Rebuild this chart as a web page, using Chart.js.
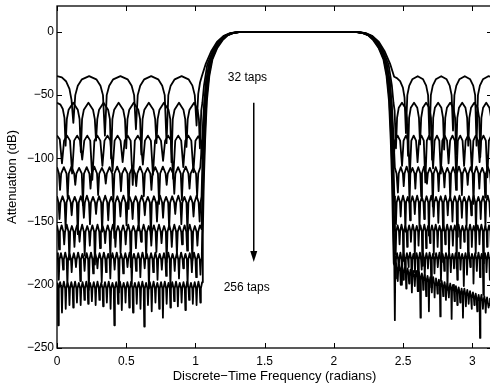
<!DOCTYPE html>
<html><head><meta charset="utf-8">
<script src="https://cdn.jsdelivr.net/npm/chart.js@4.4.1/dist/chart.umd.min.js"></script>
<style>html,body{margin:0;padding:0;background:#fff;overflow:hidden;width:490px;height:384px}canvas{display:block}</style>
</head><body>
<canvas id="c" width="494" height="384"></canvas>
<script>
// ---- tick labels ----
const xTicks = [0, 0.5, 1, 1.5, 2, 2.5, 3];
const yTicks = [0, -50, -100, -150, -200, -250];
const xTitle = 'Discrete\u2212Time Frequency (radians)';
const yTitle = 'Attenuation (dB)';
const topLabel = '32 taps';
const bottomLabel = '256 taps';
// annotation anchors in data units [radians, dB]
const topLabelAt = [1.375, -36];
const bottomLabelAt = [1.37, -202.5];
const arrowFrom = [1.421, -56];
const arrowTo = [1.421, -182];

// ---- series: [frequency (rad), attenuation (dB)] ----
const taps32 = [[0,-35],[.035,-36],[.065,-39],[.09,-45],[.105,-54],[.118,-72],
[.132,-50],[.15,-42.5],[.18,-37.5],[.232,-35],[.284,-37.5],[.314,-42.5],[.332,-50],[.346,-82],
[.359,-50],[.377,-42.5],[.406,-37.5],[.458,-35],[.51,-37.5],[.539,-42.5],[.557,-50],[.57,-77],
[.583,-50],[.601,-42.5],[.63,-37.5],[.68,-35],[.731,-37.5],[.76,-42.5],[.778,-50],[.791,-88],
[.804,-50],[.821,-42.5],[.85,-37.5],[.9,-35],[.95,-37.5],[.978,-42.5],[.995,-50],[1.008,-74],
[1.02,-49],[1.033,-40],[1.045,-35.5],[1.075,-25],[1.115,-15],[1.155,-8],[1.205,-3],[1.25,-1],[1.3,-.2],[1.36,0],
[2.12,0],[2.18,-.2],[2.23,-1],[2.275,-3],[2.325,-8],[2.365,-15],[2.405,-25],[2.435,-35.5],
[2.455,-36.5],[2.478,-39],[2.498,-44],[2.51,-52],[2.52,-80],
[2.53,-50],[2.544,-42.5],[2.566,-37.5],[2.605,-35],[2.644,-37.5],[2.666,-42.5],[2.68,-50],[2.69,-85],
[2.7,-50],[2.714,-42.5],[2.736,-37.5],[2.775,-35],[2.814,-37.5],[2.836,-42.5],[2.85,-50],[2.86,-78],
[2.87,-50],[2.884,-42.5],[2.906,-37.5],[2.945,-35],[2.984,-37.5],[3.006,-42.5],[3.02,-50],[3.03,-90],
[3.04,-50],[3.054,-42.5],[3.076,-37.5],[3.115,-35],[3.142,-35.8]];

const taps64 = [[0,-56],[.025,-57.5],[.042,-61],[.054,-68],[.062,-90],
[.071,-69],[.084,-61.5],[.117,-56],[.15,-61.5],[.163,-69],[.172,-95],
[.181,-69],[.194,-61.5],[.227,-56],[.26,-61.5],[.273,-69],[.282,-86],
[.291,-69],[.304,-61.5],[.336,-56],[.369,-61.5],[.382,-69],[.391,-100],
[.4,-69],[.413,-61.5],[.445,-56],[.478,-61.5],[.491,-69],[.5,-92],
[.509,-69],[.522,-61.5],[.554,-56],[.587,-61.5],[.6,-69],[.609,-97],
[.618,-69],[.631,-61.5],[.663,-56],[.696,-61.5],[.709,-69],[.718,-88],
[.727,-69],[.74,-61.5],[.772,-56],[.805,-61.5],[.818,-69],[.827,-103],
[.836,-69],[.849,-61.5],[.881,-56],[.913,-61.5],[.926,-69],[.935,-91],
[.944,-69],[.957,-61.5],[.99,-56],[1.015,-61.5],[1.025,-69],[1.032,-92],
[1.042,-62],[1.05,-56],[1.062,-42],[1.085,-26],[1.125,-15],[1.162,-8],[1.21,-3],[1.255,-1],[1.305,-.2],[1.36,0],
[2.12,0],[2.175,-.2],[2.225,-1],[2.27,-3],[2.318,-8],[2.355,-15],[2.395,-26],[2.418,-42],[2.43,-56],[2.438,-62],[2.448,-92],
[2.456,-68],[2.468,-60],[2.4915,-56],[2.515,-60],[2.527,-68],[2.535,-98],
[2.543,-68],[2.555,-60],[2.5785,-56],[2.602,-60],[2.614,-68],[2.622,-89],
[2.63,-68],[2.642,-60],[2.6655,-56],[2.689,-60],[2.701,-68],[2.709,-101],
[2.717,-68],[2.729,-60],[2.7525,-56],[2.776,-60],[2.788,-68],[2.796,-93],
[2.804,-68],[2.816,-60],[2.8395,-56],[2.863,-60],[2.875,-68],[2.883,-97],
[2.891,-68],[2.903,-60],[2.9265,-56],[2.95,-60],[2.962,-68],[2.97,-90],
[2.978,-68],[2.99,-60],[3.0135,-56],[3.037,-60],[3.049,-68],[3.057,-99],
[3.065,-68],[3.077,-60],[3.1,-56],[3.123,-60],[3.135,-68],[3.142,-80]];

const taps96 = [[0,-82],[.02,-85],[.036,-104],[.051,-86],[.0725,-82],[.094,-86],
[.109,-112],[.124,-86],[.1455,-82],[.167,-86],
[.182,-101],[.197,-86],[.2185,-82],[.24,-86],
[.255,-117],[.27,-86],[.2915,-82],[.313,-86],
[.328,-106],[.343,-86],[.3645,-82],[.386,-86],
[.401,-110],[.416,-86],[.4375,-82],[.459,-86],
[.474,-103],[.489,-86],[.5105,-82],[.532,-86],
[.547,-121],[.562,-86],[.5835,-82],[.605,-86],
[.62,-105],[.635,-86],[.6565,-82],[.678,-86],
[.693,-113],[.708,-86],[.7295,-82],[.751,-86],
[.766,-102],[.781,-86],[.8025,-82],[.824,-86],
[.839,-116],[.854,-86],[.8755,-82],[.897,-86],
[.912,-107],[.927,-86],[.9485,-82],[.97,-86],
[.985,-111],[1,-86],[1.02,-82.5],[1.04,-86],[1.048,-100],
[1.056,-80],[1.064,-58],[1.075,-40],[1.097,-26],[1.132,-15],[1.168,-8],[1.215,-3],[1.26,-1],[1.305,-.2],[1.36,0],
[2.12,0],[2.175,-.2],[2.22,-1],[2.265,-3],[2.312,-8],[2.348,-15],[2.383,-26],[2.405,-40],[2.416,-58],[2.424,-80],[2.432,-100],
[2.44,-86],[2.46,-82],[2.478,-86],
[2.492,-106],[2.503,-86],[2.52,-82],[2.537,-86],
[2.548,-114],[2.559,-86],[2.576,-82],[2.593,-86],
[2.604,-103],[2.615,-86],[2.632,-82],[2.649,-86],
[2.66,-119],[2.671,-86],[2.688,-82],[2.705,-86],
[2.716,-108],[2.727,-86],[2.744,-82],[2.761,-86],
[2.772,-112],[2.783,-86],[2.8,-82],[2.817,-86],
[2.828,-104],[2.839,-86],[2.856,-82],[2.873,-86],
[2.884,-117],[2.895,-86],[2.912,-82],[2.929,-86],
[2.94,-106],[2.951,-86],[2.968,-82],[2.985,-86],
[2.996,-110],[3.007,-86],[3.024,-82],[3.041,-86],
[3.052,-103],[3.063,-86],[3.08,-82],[3.097,-86],
[3.108,-115],[3.119,-86],[3.136,-82],[3.142,-82.3]];

const taps128 = [[0,-107],[.014,-112],
[.022,-125],[.03,-112],[.0495,-107],[.069,-112],
[.077,-131],[.085,-112],[.1045,-106.5],[.124,-112],
[.132,-121],[.14,-112],[.1595,-107.5],[.179,-112],
[.187,-137],[.195,-112],[.2145,-107],[.234,-112],
[.242,-124],[.25,-112],[.2695,-106.5],[.289,-112],
[.297,-129],[.305,-112],[.3245,-107.5],[.344,-112],
[.352,-120],[.36,-112],[.3795,-107],[.399,-112],
[.407,-134],[.415,-112],[.4345,-106.5],[.454,-112],
[.462,-126],[.47,-112],[.4895,-107.5],[.509,-112],
[.517,-140],[.525,-112],[.5445,-107],[.564,-112],
[.572,-122],[.58,-112],[.5995,-106.5],[.619,-112],
[.627,-130],[.635,-112],[.6545,-107.5],[.674,-112],
[.682,-125],[.69,-112],[.7095,-107],[.729,-112],
[.737,-136],[.745,-112],[.7645,-106.5],[.784,-112],
[.792,-121],[.8,-112],[.8195,-107.5],[.839,-112],
[.847,-128],[.855,-112],[.8745,-107],[.894,-112],
[.902,-133],[.91,-112],[.9295,-106.5],[.949,-112],
[.957,-124],[.965,-112],[.9845,-107.5],[1.004,-112],
[1.012,-130],[1.02,-112],[1.035,-107],
[1.05,-82],[1.062,-58],[1.078,-40],[1.1,-25],[1.138,-15],[1.173,-8],[1.218,-3],[1.262,-1],[1.31,-.2],[1.36,0],
[2.12,0],[2.17,-.2],[2.218,-1],[2.262,-3],[2.307,-8],[2.342,-15],[2.38,-25],[2.402,-40],[2.418,-58],[2.43,-82],[2.44,-107.5],[2.452,-112],
[2.462,-127],[2.468,-112],[2.483,-107],[2.498,-112],
[2.504,-122],[2.51,-112],[2.525,-106.5],[2.54,-112],
[2.546,-135],[2.552,-112],[2.567,-107.5],[2.582,-112],
[2.588,-124],[2.594,-112],[2.609,-107],[2.624,-112],
[2.63,-130],[2.636,-112],[2.651,-106.5],[2.666,-112],
[2.672,-120],[2.678,-112],[2.693,-107.5],[2.708,-112],
[2.714,-138],[2.72,-112],[2.735,-107],[2.75,-112],
[2.756,-126],[2.762,-112],[2.777,-106.5],[2.792,-112],
[2.798,-123],[2.804,-112],[2.819,-107.5],[2.834,-112],
[2.84,-133],[2.846,-112],[2.861,-107],[2.876,-112],
[2.882,-125],[2.888,-112],[2.903,-106.5],[2.918,-112],
[2.924,-129],[2.93,-112],[2.945,-107.5],[2.96,-112],
[2.966,-121],[2.972,-112],[2.987,-107],[3.002,-112],
[3.008,-136],[3.014,-112],[3.029,-106.5],[3.044,-112],
[3.05,-124],[3.056,-112],[3.071,-107.5],[3.086,-112],
[3.092,-131],[3.098,-112],[3.113,-107],[3.128,-112],
[3.134,-122],[3.14,-112],[3.142,-110]];

const taps160 = [[0,-130],[.011,-135],
[.018,-148],[.025,-135],[.04,-130],[.055,-135],
[.062,-155],[.069,-135],[.084,-129.5],[.099,-135],
[.106,-145],[.113,-135],[.128,-130.5],[.143,-135],
[.15,-160],[.157,-135],[.172,-130],[.187,-135],
[.194,-147],[.201,-135],[.216,-129.5],[.231,-135],
[.238,-152],[.245,-135],[.26,-130.5],[.275,-135],
[.282,-144],[.289,-135],[.304,-130],[.319,-135],
[.326,-158],[.333,-135],[.348,-129.5],[.363,-135],
[.37,-149],[.377,-135],[.392,-130.5],[.407,-135],
[.414,-163],[.421,-135],[.436,-130],[.451,-135],
[.458,-146],[.465,-135],[.48,-129.5],[.495,-135],
[.502,-153],[.509,-135],[.524,-130.5],[.539,-135],
[.546,-148],[.553,-135],[.568,-130],[.583,-135],
[.59,-157],[.597,-135],[.612,-129.5],[.627,-135],
[.634,-145],[.641,-135],[.656,-130.5],[.671,-135],
[.678,-161],[.685,-135],[.7,-130],[.715,-135],
[.722,-150],[.729,-135],[.744,-129.5],[.759,-135],
[.766,-147],[.773,-135],[.788,-130.5],[.803,-135],
[.81,-156],[.817,-135],[.832,-130],[.847,-135],
[.854,-144],[.861,-135],[.876,-129.5],[.891,-135],
[.898,-152],[.905,-135],[.92,-130.5],[.935,-135],
[.942,-159],[.949,-135],[.964,-130],[.979,-135],
[.986,-146],[.993,-135],[1.008,-129.5],[1.023,-135],
[1.03,-150],[1.037,-135],[1.044,-130],
[1.05,-104],[1.06,-76],[1.071,-54],[1.085,-37],[1.106,-25],[1.143,-15],[1.177,-8],[1.222,-3],[1.265,-1],[1.31,-.2],[1.36,0],
[2.12,0],[2.17,-.2],[2.215,-1],[2.258,-3],[2.303,-8],[2.337,-15],[2.374,-25],[2.395,-37],[2.409,-54],[2.42,-76],[2.43,-104],[2.436,-130],[2.441,-135],
[2.448,-152],[2.453,-135],[2.465,-130],[2.477,-135],
[2.482,-146],[2.487,-135],[2.499,-129.5],[2.511,-135],
[2.516,-158],[2.521,-135],[2.533,-130.5],[2.545,-135],
[2.55,-149],[2.555,-135],[2.567,-130],[2.579,-135],
[2.584,-144],[2.589,-135],[2.601,-129.5],[2.613,-135],
[2.618,-155],[2.623,-135],[2.635,-130.5],[2.647,-135],
[2.652,-148],[2.657,-135],[2.669,-130],[2.681,-135],
[2.686,-161],[2.691,-135],[2.703,-129.5],[2.715,-135],
[2.72,-146],[2.725,-135],[2.737,-130.5],[2.749,-135],
[2.754,-151],[2.759,-135],[2.771,-130],[2.783,-135],
[2.788,-157],[2.793,-135],[2.805,-129.5],[2.817,-135],
[2.822,-145],[2.827,-135],[2.839,-130.5],[2.851,-135],
[2.856,-150],[2.861,-135],[2.873,-130],[2.885,-135],
[2.89,-162],[2.895,-135],[2.907,-129.5],[2.919,-135],
[2.924,-147],[2.929,-135],[2.941,-130.5],[2.953,-135],
[2.958,-153],[2.963,-135],[2.975,-130],[2.987,-135],
[2.992,-145],[2.997,-135],[3.009,-129.5],[3.021,-135],
[3.026,-159],[3.031,-135],[3.043,-130.5],[3.055,-135],
[3.06,-148],[3.065,-135],[3.077,-130],[3.089,-135],
[3.094,-154],[3.099,-135],[3.111,-129.5],[3.123,-135],
[3.128,-146],[3.133,-135],[3.142,-130]];

const taps192 = [[0,-153],[.009,-158],
[.015,-172],[.021,-158],[.0335,-153],[.046,-158],
[.052,-168],[.058,-158],[.0705,-152.5],[.083,-158],
[.089,-180],[.095,-158],[.1075,-153.5],[.12,-158],
[.126,-170],[.132,-158],[.1445,-153],[.157,-158],
[.163,-166],[.169,-158],[.1815,-152.5],[.194,-158],
[.2,-177],[.206,-158],[.2185,-153.5],[.231,-158],
[.237,-169],[.243,-158],[.2555,-153],[.268,-158],
[.274,-184],[.28,-158],[.2925,-152.5],[.305,-158],
[.311,-171],[.317,-158],[.3295,-153.5],[.342,-158],
[.348,-167],[.354,-158],[.3665,-153],[.379,-158],
[.385,-178],[.391,-158],[.4035,-152.5],[.416,-158],
[.422,-170],[.428,-158],[.4405,-153.5],[.453,-158],
[.459,-175],[.465,-158],[.4775,-153],[.49,-158],
[.496,-168],[.502,-158],[.5145,-152.5],[.527,-158],
[.533,-186],[.539,-158],[.5515,-153.5],[.564,-158],
[.57,-171],[.576,-158],[.5885,-153],[.601,-158],
[.607,-166],[.613,-158],[.6255,-152.5],[.638,-158],
[.644,-179],[.65,-158],[.6625,-153.5],[.675,-158],
[.681,-169],[.687,-158],[.6995,-153],[.712,-158],
[.718,-174],[.724,-158],[.7365,-152.5],[.749,-158],
[.755,-167],[.761,-158],[.7735,-153.5],[.786,-158],
[.792,-182],[.798,-158],[.8105,-153],[.823,-158],
[.829,-170],[.835,-158],[.8475,-152.5],[.86,-158],
[.866,-176],[.872,-158],[.8845,-153.5],[.897,-158],
[.903,-168],[.909,-158],[.9215,-153],[.934,-158],
[.94,-173],[.946,-158],[.9585,-152.5],[.971,-158],
[.977,-181],[.983,-158],[.9955,-153.5],[1.008,-158],
[1.014,-169],[1.02,-158],[1.032,-153],[1.044,-156],
[1.05,-125],[1.058,-94],[1.068,-67],[1.08,-47],[1.097,-31],[1.118,-20],[1.152,-12],[1.19,-6],[1.228,-2.5],[1.268,-1],[1.312,-.2],[1.36,0],
[2.12,0],[2.168,-.2],[2.212,-1],[2.252,-2.5],[2.29,-6],[2.328,-12],[2.362,-20],[2.383,-31],[2.4,-47],[2.412,-67],[2.422,-94],[2.43,-125],[2.436,-153],[2.441,-158],
[2.446,-176],[2.45,-158],[2.46,-153],[2.47,-158],
[2.474,-168],[2.478,-158],[2.488,-152.5],[2.498,-158],
[2.501,-181],[2.505,-158],[2.515,-153.5],[2.525,-158],
[2.529,-170],[2.533,-158],[2.543,-153],[2.553,-158],
[2.556,-166],[2.56,-158],[2.57,-152.5],[2.58,-158],
[2.584,-178],[2.588,-158],[2.598,-153.5],[2.608,-158],
[2.611,-169],[2.615,-158],[2.625,-153],[2.635,-158],
[2.639,-185],[2.643,-158],[2.653,-152.5],[2.663,-158],
[2.666,-171],[2.67,-158],[2.68,-153.5],[2.69,-158],
[2.694,-167],[2.698,-158],[2.708,-153],[2.718,-158],
[2.721,-176],[2.725,-158],[2.735,-152.5],[2.745,-158],
[2.749,-170],[2.753,-158],[2.763,-153.5],[2.773,-158],
[2.776,-182],[2.78,-158],[2.79,-153],[2.8,-158],
[2.804,-168],[2.808,-158],[2.818,-152.5],[2.828,-158],
[2.831,-174],[2.835,-158],[2.845,-153.5],[2.855,-158],
[2.859,-169],[2.863,-158],[2.873,-153],[2.883,-158],
[2.886,-187],[2.89,-158],[2.9,-152.5],[2.91,-158],
[2.914,-171],[2.918,-158],[2.928,-153.5],[2.938,-158],
[2.941,-166],[2.945,-158],[2.955,-153],[2.965,-158],
[2.969,-178],[2.973,-158],[2.983,-152.5],[2.993,-158],
[2.996,-170],[3,-158],[3.01,-153.5],[3.02,-158],
[3.024,-175],[3.028,-158],[3.038,-153],[3.048,-158],
[3.051,-168],[3.055,-158],[3.065,-152.5],[3.075,-158],
[3.079,-183],[3.083,-158],[3.093,-153.5],[3.103,-158],
[3.106,-170],[3.11,-158],[3.12,-153],[3.13,-158],
[3.134,-172],[3.138,-158],[3.142,-154]];

const taps224 = [[0,-175],[.007,-180],
[.013,-196],[.018,-180],[.0285,-175],[.039,-180],
[.044,-188],[.049,-180],[.0595,-174.5],[.07,-180],
[.075,-201],[.08,-180],[.0905,-175.5],[.101,-180],
[.106,-190],[.111,-180],[.1215,-175],[.132,-180],
[.137,-186],[.142,-180],[.1525,-174.5],[.163,-180],
[.168,-197],[.173,-180],[.1835,-175.5],[.194,-180],
[.199,-189],[.204,-180],[.2145,-175],[.225,-180],
[.23,-204],[.235,-180],[.2455,-174.5],[.256,-180],
[.261,-191],[.266,-180],[.2765,-175.5],[.287,-180],
[.292,-187],[.297,-180],[.3075,-175],[.318,-180],
[.323,-198],[.328,-180],[.3385,-174.5],[.349,-180],
[.354,-190],[.359,-180],[.3695,-175.5],[.38,-180],
[.385,-195],[.39,-180],[.4005,-175],[.411,-180],
[.416,-188],[.421,-180],[.4315,-174.5],[.442,-180],
[.447,-206],[.452,-180],[.4625,-175.5],[.473,-180],
[.478,-191],[.483,-180],[.4935,-175],[.504,-180],
[.509,-186],[.514,-180],[.5245,-174.5],[.535,-180],
[.54,-199],[.545,-180],[.5555,-175.5],[.566,-180],
[.571,-189],[.576,-180],[.5865,-175],[.597,-180],
[.602,-194],[.607,-180],[.6175,-174.5],[.628,-180],
[.633,-187],[.638,-180],[.6485,-175.5],[.659,-180],
[.664,-203],[.669,-180],[.6795,-175],[.69,-180],
[.695,-190],[.7,-180],[.7105,-174.5],[.721,-180],
[.726,-196],[.731,-180],[.7415,-175.5],[.752,-180],
[.757,-188],[.762,-180],[.7725,-175],[.783,-180],
[.788,-193],[.793,-180],[.8035,-174.5],[.814,-180],
[.819,-201],[.824,-180],[.8345,-175.5],[.845,-180],
[.85,-189],[.855,-180],[.8655,-175],[.876,-180],
[.881,-195],[.886,-180],[.8965,-174.5],[.907,-180],
[.912,-187],[.917,-180],[.9275,-175.5],[.938,-180],
[.943,-200],[.948,-180],[.9585,-175],[.969,-180],
[.974,-190],[.979,-180],[.9895,-174.5],[1,-180],
[1.005,-194],[1.01,-180],[1.0205,-175.5],[1.031,-180],
[1.036,-192],[1.041,-180],[1.046,-175],
[1.052,-140],[1.06,-105],[1.07,-75],[1.082,-50],[1.1,-32],[1.122,-20],[1.156,-12],[1.194,-6],[1.232,-2.5],[1.27,-1],[1.315,-.2],[1.36,0],
[2.12,0],[2.165,-.2],[2.21,-1],[2.248,-2.5],[2.286,-6],[2.324,-12],[2.358,-20],[2.38,-32],[2.398,-50],[2.41,-75],[2.42,-105],[2.428,-140],[2.434,-175],[2.439,-180],
[2.444,-195],[2.448,-180],[2.456,-175],[2.464,-180],
[2.468,-187],[2.472,-180],[2.48,-174.5],[2.488,-180],
[2.491,-200],[2.495,-180],[2.503,-175.5],[2.511,-180],
[2.515,-189],[2.519,-180],[2.527,-175],[2.535,-180],
[2.538,-186],[2.542,-180],[2.55,-174.5],[2.558,-180],
[2.562,-198],[2.566,-180],[2.574,-175.5],[2.582,-180],
[2.585,-190],[2.589,-180],[2.597,-175],[2.605,-180],
[2.609,-205],[2.613,-180],[2.621,-174.5],[2.629,-180],
[2.632,-188],[2.636,-180],[2.644,-175.5],[2.652,-180],
[2.656,-193],[2.66,-180],[2.668,-175],[2.676,-180],
[2.679,-187],[2.683,-180],[2.691,-174.5],[2.699,-180],
[2.703,-202],[2.707,-180],[2.715,-175.5],[2.723,-180],
[2.726,-191],[2.73,-180],[2.738,-175],[2.746,-180],
[2.75,-186],[2.754,-180],[2.762,-174.5],[2.77,-180],
[2.773,-197],[2.777,-180],[2.785,-175.5],[2.793,-180],
[2.797,-189],[2.801,-180],[2.809,-175],[2.817,-180],
[2.82,-204],[2.824,-180],[2.832,-174.5],[2.84,-180],
[2.844,-190],[2.848,-180],[2.856,-175.5],[2.864,-180],
[2.867,-187],[2.871,-180],[2.879,-175],[2.887,-180],
[2.891,-196],[2.895,-180],[2.903,-174.5],[2.911,-180],
[2.914,-188],[2.918,-180],[2.926,-175.5],[2.934,-180],
[2.938,-201],[2.942,-180],[2.95,-175],[2.958,-180],
[2.961,-192],[2.965,-180],[2.973,-174.5],[2.981,-180],
[2.985,-186],[2.989,-180],[2.997,-175.5],[3.005,-180],
[3.008,-199],[3.012,-180],[3.02,-175],[3.028,-180],
[3.032,-189],[3.036,-180],[3.044,-174.5],[3.052,-180],
[3.055,-194],[3.059,-180],[3.067,-175.5],[3.075,-180],
[3.079,-208],[3.083,-180],[3.091,-175],[3.099,-180],
[3.102,-190],[3.106,-180],[3.114,-174.5],[3.122,-180],
[3.126,-196],[3.13,-180],[3.138,-175.5],[3.142,-178]];

const taps256 = [[0,-199],[.005,-203],
[.009,-232],[.013,-203],[.0225,-198],[.032,-203],
[.036,-222],[.04,-203],[.0495,-197.5],[.059,-203],
[.063,-219],[.067,-203],[.0765,-198.5],[.086,-203],
[.09,-216],[.094,-203],[.1035,-198],[.113,-203],
[.117,-218],[.121,-203],[.1305,-197.5],[.14,-203],
[.144,-214],[.148,-203],[.1575,-198.5],[.167,-203],
[.171,-216],[.175,-203],[.1845,-198],[.194,-203],
[.198,-212],[.202,-203],[.2115,-197.5],[.221,-203],
[.225,-215],[.229,-203],[.2385,-198.5],[.248,-203],
[.252,-213],[.256,-203],[.2655,-198],[.275,-203],
[.279,-216],[.283,-203],[.2925,-197.5],[.302,-203],
[.306,-212],[.31,-203],[.3195,-198.5],[.329,-203],
[.333,-217],[.337,-203],[.3465,-198],[.356,-203],
[.36,-214],[.364,-203],[.3735,-197.5],[.383,-203],
[.387,-219],[.391,-203],[.4005,-198.5],[.41,-203],
[.414,-232],[.418,-203],[.4275,-198],[.437,-203],
[.441,-215],[.445,-203],[.4545,-197.5],[.464,-203],
[.468,-220],[.472,-203],[.4815,-198.5],[.491,-203],
[.495,-214],[.499,-203],[.5085,-198],[.518,-203],
[.522,-218],[.526,-203],[.5355,-197.5],[.545,-203],
[.549,-222],[.553,-203],[.5625,-198.5],[.572,-203],
[.576,-215],[.58,-203],[.5895,-198],[.599,-203],
[.603,-219],[.607,-203],[.6165,-197.5],[.626,-203],
[.63,-233],[.634,-203],[.6435,-198.5],[.653,-203],
[.657,-216],[.661,-203],[.6705,-198],[.68,-203],
[.684,-221],[.688,-203],[.6975,-197.5],[.707,-203],
[.711,-214],[.715,-203],[.7245,-198.5],[.734,-203],
[.738,-219],[.742,-203],[.7515,-198],[.761,-203],
[.765,-226],[.769,-203],[.7785,-197.5],[.788,-203],
[.792,-215],[.796,-203],[.8055,-198.5],[.815,-203],
[.819,-218],[.823,-203],[.8325,-198],[.842,-203],
[.846,-213],[.85,-203],[.8595,-197.5],[.869,-203],
[.873,-217],[.877,-203],[.8865,-198.5],[.896,-203],
[.9,-214],[.904,-203],[.9135,-198],[.923,-203],
[.927,-220],[.931,-203],[.9405,-197.5],[.95,-203],
[.954,-212],[.958,-203],[.9675,-198.5],[.977,-203],
[.981,-215],[.985,-203],[.9945,-198],[1.004,-203],
[1.008,-216],[1.012,-203],[1.0215,-197.5],[1.031,-203],
[1.035,-214],[1.039,-203],[1.048,-198],
[1.053,-160],[1.06,-120],[1.07,-85],[1.082,-55],[1.1,-35],[1.122,-22],[1.156,-13],[1.196,-6.5],[1.235,-2.5],[1.272,-1],[1.318,-.2],[1.36,0],
[2.12,0],[2.162,-.2],[2.208,-1],[2.245,-2.5],[2.284,-6.5],[2.324,-13],[2.358,-22],[2.38,-35],[2.398,-55],[2.41,-85],[2.42,-120],[2.427,-160],[2.432,-183],[2.436,-185],
[2.44,-228],[2.443,-188],[2.45,-183],[2.457,-188],
[2.461,-197],[2.464,-189],[2.471,-184],[2.478,-189],
[2.481,-200],[2.484,-190],[2.491,-185],[2.498,-190],
[2.502,-196],[2.505,-191],[2.512,-186],[2.519,-191],
[2.522,-203],[2.525,-192],[2.532,-187],[2.539,-192],
[2.543,-199],[2.546,-193],[2.553,-188],[2.56,-193],
[2.563,-206],[2.566,-194],[2.573,-189],[2.58,-194],
[2.584,-201],[2.587,-194],[2.594,-189],[2.601,-194],
[2.604,-205],[2.607,-195],[2.614,-190],[2.621,-195],
[2.625,-226],[2.628,-196],[2.635,-191],[2.642,-196],
[2.645,-204],[2.648,-197],[2.655,-192],[2.662,-197],
[2.666,-209],[2.669,-198],[2.676,-193],[2.683,-198],
[2.686,-221],[2.689,-199],[2.696,-194],[2.703,-199],
[2.707,-206],[2.71,-199],[2.717,-194],[2.724,-199],
[2.727,-210],[2.73,-200],[2.737,-195],[2.744,-200],
[2.748,-207],[2.751,-201],[2.758,-196],[2.765,-201],
[2.768,-225],[2.771,-202],[2.778,-197],[2.785,-202],
[2.789,-209],[2.792,-203],[2.799,-198],[2.806,-203],
[2.809,-212],[2.812,-204],[2.819,-199],[2.826,-204],
[2.83,-210],[2.833,-204],[2.84,-199],[2.847,-204],
[2.85,-227],[2.853,-205],[2.86,-200],[2.867,-205],
[2.871,-213],[2.874,-206],[2.881,-201],[2.888,-206],
[2.891,-216],[2.894,-207],[2.901,-202],[2.908,-207],
[2.912,-214],[2.915,-208],[2.922,-203],[2.929,-208],
[2.932,-226],[2.935,-208],[2.942,-203],[2.949,-208],
[2.953,-217],[2.956,-209],[2.963,-204],[2.97,-209],
[2.973,-215],[2.976,-210],[2.983,-205],[2.99,-210],
[2.994,-219],[2.997,-211],[3.004,-206],[3.011,-211],
[3.014,-216],[3.017,-212],[3.024,-207],[3.031,-212],
[3.035,-221],[3.038,-213],[3.045,-208],[3.052,-213],
[3.055,-242],[3.058,-213],[3.065,-208],[3.072,-213],
[3.076,-219],[3.079,-214],[3.086,-209],[3.093,-214],
[3.096,-222],[3.099,-215],[3.106,-210],[3.113,-215],
[3.117,-218],[3.12,-216],[3.127,-211],[3.134,-216],
[3.137,-224],[3.14,-216],[3.142,-212]];

const seriesList = [taps32, taps64, taps96, taps128, taps160, taps192, taps224, taps256];
const seriesNames = ['32 taps','64 taps','96 taps','128 taps','160 taps','192 taps','224 taps','256 taps'];

const FONT = "'Liberation Sans', Arial, Helvetica, sans-serif";
const minus = v => (v < 0 ? '\u2212' + Math.abs(v) : String(v));

const decor = {
  id: 'decor',
  afterDraw(chart) {
    const {ctx, chartArea: a, scales: {x, y}} = chart;
    ctx.save();
    ctx.strokeStyle = '#000';
    ctx.fillStyle = '#000';
    ctx.lineWidth = 1.3;
    ctx.strokeRect(a.left, a.top, a.right - a.left, a.bottom - a.top);
    const L = 5;
    ctx.lineWidth = 1;
    ctx.beginPath();
    x.ticks.forEach(t => {
      const p = Math.round(x.getPixelForValue(t.value)) + 0.5;
      ctx.moveTo(p, a.bottom); ctx.lineTo(p, a.bottom - L);
      ctx.moveTo(p, a.top); ctx.lineTo(p, a.top + L);
    });
    y.ticks.forEach(t => {
      const p = Math.round(y.getPixelForValue(t.value)) + 0.5;
      ctx.moveTo(a.left, p); ctx.lineTo(a.left + L, p);
      ctx.moveTo(a.right, p); ctx.lineTo(a.right - L, p);
    });
    ctx.stroke();
    // arrow
    const ax = x.getPixelForValue(arrowFrom[0]);
    const ay0 = y.getPixelForValue(arrowFrom[1]);
    const ay1 = y.getPixelForValue(arrowTo[1]);
    ctx.lineWidth = 1.5;
    ctx.beginPath();
    ctx.moveTo(ax, ay0); ctx.lineTo(ax, ay1 - 8);
    ctx.stroke();
    ctx.beginPath();
    ctx.moveTo(ax, ay1); ctx.lineTo(ax - 3.5, ay1 - 11); ctx.lineTo(ax + 3.5, ay1 - 11); ctx.closePath();
    ctx.fill();
    // labels
    ctx.font = '12px ' + FONT;
    ctx.textAlign = 'center';
    ctx.textBaseline = 'middle';
    ctx.fillText(topLabel, x.getPixelForValue(topLabelAt[0]), y.getPixelForValue(topLabelAt[1]));
    ctx.fillText(bottomLabel, x.getPixelForValue(bottomLabelAt[0]), y.getPixelForValue(bottomLabelAt[1]));
    ctx.restore();
  }
};

new Chart(document.getElementById('c'), {
  type: 'line',
  data: {
    datasets: seriesList.map((s, i) => ({
      label: seriesNames[i],
      data: s.map(p => ({x: p[0], y: p[1]})),
      borderColor: '#000',
      borderWidth: 1.8,
      borderJoinStyle: 'round',
      pointRadius: 0,
      fill: false,
      tension: 0
    }))
  },
  options: {
    responsive: false,
    animation: false,
    devicePixelRatio: 1,
    events: [],
    layout: {padding: {top: 6, right: 2, left: 0, bottom: 0}},
    plugins: {legend: {display: false}, tooltip: {enabled: false}},
    scales: {
      x: {
        type: 'linear', min: 0, max: Math.PI,
        grid: {display: false, drawTicks: false},
        border: {display: false},
        afterBuildTicks: s => { s.ticks = xTicks.map(v => ({value: v})); },
        ticks: {autoSkip: false, maxRotation: 0, padding: 6, color: '#000',
                font: {family: FONT, size: 12}, callback: v => String(v)},
        title: {display: true, text: xTitle, color: '#000', font: {family: FONT, size: 13},
                padding: {top: 0, bottom: 0}},
        afterFit: s => { s.height = 36; s.paddingLeft = 0; s.paddingRight = 0; }
      },
      y: {
        type: 'linear', min: -250, max: 20.5,
        grid: {display: false, drawTicks: false},
        border: {display: false},
        afterBuildTicks: s => { s.ticks = yTicks.map(v => ({value: v})); },
        ticks: {autoSkip: false, padding: 3, color: '#000',
                font: {family: FONT, size: 12}, callback: v => minus(v)},
        title: {display: true, text: yTitle, color: '#000', font: {family: FONT, size: 13},
                padding: {top: 5, bottom: 0}},
        afterFit: s => { s.width = 57; s.paddingTop = 0; s.paddingBottom = 0; }
      }
    }
  },
  plugins: [decor]
});
</script>
</body></html>
